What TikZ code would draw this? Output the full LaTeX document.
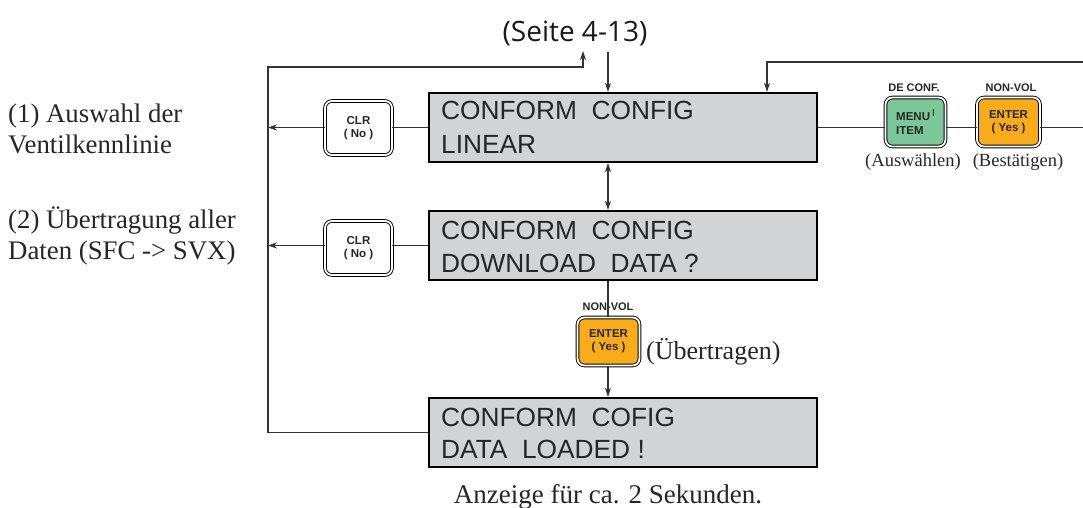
\documentclass[tikz,border=0pt]{standalone}
\usepackage{fontspec}
\setmainfont{Liberation Serif}
\newfontfamily\boxfont{Liberation Sans}
\newfontfamily\seitefont{Open Sans}
\usetikzlibrary{arrows.meta}
\definecolor{lcdgray}{HTML}{D1D3D4}
\definecolor{keygreen}{HTML}{7CC797}
\definecolor{keyorange}{HTML}{F9AC1A}
\definecolor{linegray}{HTML}{333333}
\begin{document}
\begin{tikzpicture}[x=1pt,y=-1pt,
  conn/.style={draw=linegray,line width=1.1pt},
  arr/.style={conn,-{Stealth[length=9pt,width=6pt]}},
  arrtwo/.style={conn,{Stealth[length=9pt,width=6pt]}-{Stealth[length=9pt,width=6pt]}},
  lcd/.style={draw=black,line width=2.4pt,fill=lcdgray,minimum width=388pt,minimum height=69pt,inner sep=0pt},
  lcdtext/.style={anchor=base west,inner sep=0pt,font=\boxfont\fontsize{26.3}{30}\selectfont,text=black!85},
  key/.style={draw=black,line width=0.9pt,double=white,double distance=1.8pt,rounded corners=7pt,
    minimum width=67pt,minimum height=54pt,inner sep=0pt,align=center,
    font=\boxfont\bfseries\fontsize{11.5}{14}\selectfont,text=black!85},
  keylab/.style={inner sep=0pt,font=\boxfont\bfseries\fontsize{11}{13}\selectfont,text=black!85},
  serif/.style={inner sep=0pt,font=\fontsize{26.8}{31}\selectfont,text=black!85},
  small/.style={inner sep=0pt,font=\fontsize{18.5}{22}\selectfont,text=black!85}]
\useasboundingbox (0,0) rectangle (1083,508);

% title
\node[inner sep=0pt,font=\seitefont\fontsize{28}{32}\selectfont,text=black!90] (seite) at (575,33) {(Seite 4-13)};

% LCD boxes
\node[lcd] (box1) at (623,127.5) {};
\node[lcd] (box2) at (623,245.5) {};
\node[lcd] (box3) at (623,432.5) {};
\node[lcdtext] (t1a) at (441,119) {CONFORM~~CONFIG};
\node[lcdtext] (t1b) at (441,153) {LINEAR};
\node[lcdtext] (t2a) at (441,239) {CONFORM~~CONFIG};
\node[lcdtext] (t2b) at (441,272) {DOWNLOAD~~DATA~?};
\node[lcdtext] (t3a) at (441,426) {CONFORM~~COFIG};
\node[lcdtext] (t3b) at (441,458) {DATA~~LOADED~!};

% keys
\node[key] (clr1) at (358.5,128) {CLR\\[-1pt]( No )};
\node[key] (clr2) at (358.5,248) {CLR\\[-1pt]( No )};
\node[key,fill=keygreen,align=left,minimum width=60pt,minimum height=49pt] (menu) at (915.5,122)
  {MENU\raisebox{4pt}{\,\mdseries\fontsize{10}{10}\selectfont I}\\ITEM};
\node[key,fill=keyorange,minimum width=63pt,minimum height=49pt] (enter1) at (1008.5,122) {ENTER\\[-1pt]( Yes )};
\node[key,fill=keyorange,minimum width=62pt,minimum height=48pt] (enter3) at (608.5,341.5) {ENTER\\[-1pt]( Yes )};
\node[keylab] (lab1) at (914,88) {DE CONF.};
\node[keylab] (lab2) at (1011,88) {NON-VOL};
\node[keylab] (lab3) at (608,307) {NON-VOL};
\node[small] (ausw) at (913,162) {(Auswählen)};
\node[small] (best) at (1018,162) {(Bestätigen)};
\node[serif,anchor=west,font=\fontsize{26}{30}\selectfont] (uebt) at (646,352) {(Übertragen)};

% left texts
\node[serif,anchor=base west] (l1a) at (8,122) {(1) Auswahl der};
\node[serif,anchor=base west] (l1b) at (8,153) {Ventilkennlinie};
\node[serif,anchor=base west] (l2a) at (8,228) {(2) Übertragung aller};
\node[serif,anchor=base west] (l2b) at (8,259) {Daten (SFC -> SVX)};
\node[serif,anchor=base,font=\fontsize{27}{31}\selectfont] (anz) at (608,503) {Anzeige für ca. 2 Sekunden.};

% coordinates
\coordinate (lt) at (268,67);
\coordinate (ut) at (583,67);
\coordinate (up) at (583,51);
\coordinate (sd) at (608,52);
\coordinate (rt) at (1083,62);
\coordinate (rd) at (767,62);
\coordinate (re) at (1083,127.5);

% connectors
\draw[arr] (box3.west) -| (lt) -- (ut) -- (up);
\draw[arr] (sd) -- (box1.north -| sd);
\draw[arr] (rt) -- (rd) -- (box1.north -| rd);
\draw[conn] (box1.west) -- (clr1.east |- box1.west);
\draw[arr] (clr1.west |- box1.west) -- (box1.west -| lt);
\draw[conn] (box2.west) -- (clr2.east |- box2.west);
\draw[arr] (clr2.west |- box2.west) -- (box2.west -| lt);
\draw[conn] (box1.east) -- (menu.west |- box1.east);
\draw[conn] (menu.east |- box1.east) -- (enter1.west |- box1.east);
\draw[conn] (enter1.east |- box1.east) -- (re);
\draw[arrtwo] (box1.south -| sd) -- (box2.north -| sd);
\draw[conn] (box2.south -| sd) -- (enter3.north -| sd);
\draw[arr] (enter3.south -| sd) -- (box3.north -| sd);
\end{tikzpicture}
\end{document}
